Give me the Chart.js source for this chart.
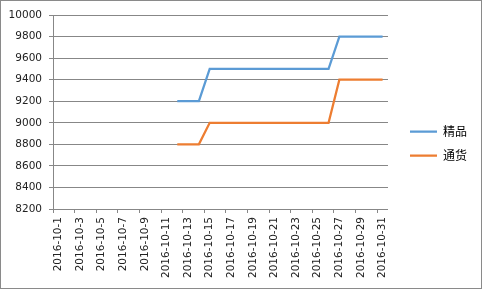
<!DOCTYPE html>
<html>
<head>
<meta charset="utf-8">
<script src="https://cdn.jsdelivr.net/npm/chart.js@4/dist/chart.umd.min.js"></script>
<style>
  html, body { margin: 0; padding: 0; background: #fff; }
  #wrap { width: 482px; height: 289px; box-sizing: border-box; border: 1px solid #8a8a8a; background: #fff; }
  canvas { display: block; }
</style>
</head>
<body>
<div id="wrap"><canvas id="c" width="480" height="287"></canvas></div>
<script>
const categories = [
  "2016-10-1","2016-10-2","2016-10-3","2016-10-4","2016-10-5","2016-10-6","2016-10-7","2016-10-8",
  "2016-10-9","2016-10-10","2016-10-11","2016-10-12","2016-10-13","2016-10-14","2016-10-15","2016-10-16",
  "2016-10-17","2016-10-18","2016-10-19","2016-10-20","2016-10-21","2016-10-22","2016-10-23","2016-10-24",
  "2016-10-25","2016-10-26","2016-10-27","2016-10-28","2016-10-29","2016-10-30","2016-10-31"
];
const seriesNames = ["精品", "通货"];
const jingpin = [null,null,null,null,null,null,null,null,null,null,null,
  9200,9200,9200,9500,9500,9500,9500,9500,9500,9500,9500,9500,9500,9500,9500,
  9800,9800,9800,9800,9800];
const tonghuo = [null,null,null,null,null,null,null,null,null,null,null,
  8800,8800,8800,9000,9000,9000,9000,9000,9000,9000,9000,9000,9000,9000,9000,
  9400,9400,9400,9400,9400];
const yTicks = { min: 8200, max: 10000, step: 200 };

const gridColor = "#878787";
const font = { family: "'DejaVu Sans', Verdana, sans-serif", size: 10.5 };

const legendShift = {
  id: "legendShift",
  afterLayout(chart) {
    if (chart.legend) chart.legend.bottom -= 16;
  }
};

new Chart(document.getElementById("c"), {
  type: "line",
  data: {
    labels: categories,
    datasets: [
      { label: seriesNames[0], data: jingpin, borderColor: "#5B9BD5", backgroundColor: "#5B9BD5",
        borderWidth: 2.25, pointRadius: 0, tension: 0, spanGaps: false },
      { label: seriesNames[1], data: tonghuo, borderColor: "#ED7D31", backgroundColor: "#ED7D31",
        borderWidth: 2.25, pointRadius: 0, tension: 0, spanGaps: false }
    ]
  },
  plugins: [legendShift],
  options: {
    responsive: false,
    animation: false,
    events: [],
    layout: { padding: { left: 0, top: 14, right: 4, bottom: 0 } },
    plugins: {
      tooltip: { enabled: false },
      legend: {
        position: "right",
        align: "center",
        labels: {
          boxWidth: 27, boxHeight: 0, padding: 12,
          color: "#000",
          font: { family: "'Noto Sans CJK SC', sans-serif", size: 12 }
        }
      }
    },
    scales: {
      x: {
        type: "category",
        offset: true,
        grid: {
          offset: true, drawOnChartArea: false, drawTicks: true, tickLength: 4,
          color: gridColor,
          tickColor: (ctx) => (ctx.index % 2 === 0 ? gridColor : "rgba(0,0,0,0)")
        },
        border: { display: true, color: gridColor },
        ticks: {
          autoSkip: false, minRotation: 90, maxRotation: 90, padding: 4,
          color: "#222", font: font,
          callback: function (v, i) { return i % 2 === 0 ? this.getLabelForValue(v) : ""; }
        },
        afterFit: (s) => { s.height = 79; }
      },
      y: {
        position: "left",
        min: yTicks.min, max: yTicks.max,
        grid: { color: gridColor, drawTicks: true, tickLength: 4 },
        border: { display: true, color: gridColor },
        ticks: { stepSize: yTicks.step, padding: 7, color: "#222", font: font,
          callback: (v) => String(v) },
        afterFit: (s) => { s.width = 52; }
      },
      y2: {
        position: "right",
        display: true,
        grid: { display: false, drawTicks: false },
        border: { display: false },
        ticks: { display: false },
        afterFit: (s) => { s.width = 10; }
      }
    }
  }
});
</script>
</body>
</html>
